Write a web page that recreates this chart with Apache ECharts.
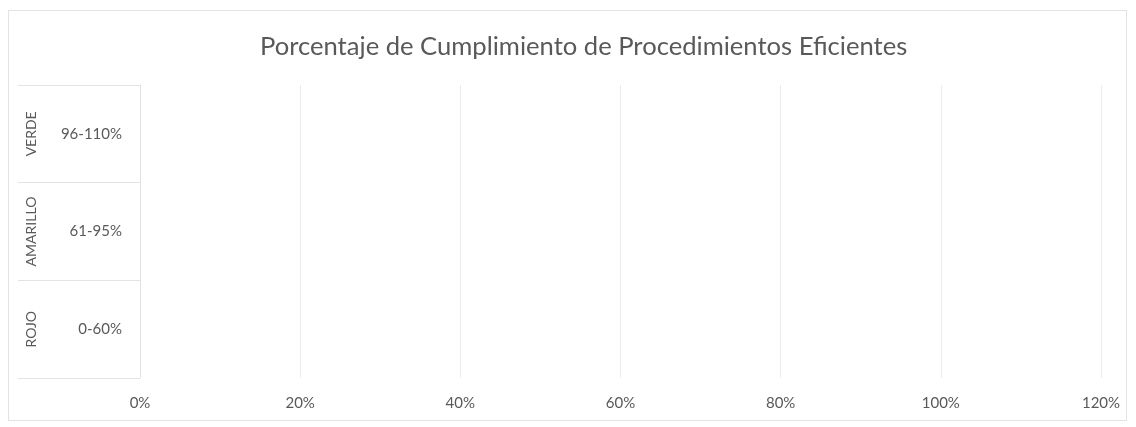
<!DOCTYPE html>
<html><head><meta charset="utf-8">
<style>
html,body{margin:0;padding:0;background:#fff;}
#frame{position:absolute;left:8px;top:10px;width:1119px;height:411px;border:1px solid #e3e3e3;box-sizing:border-box;}
#c{position:absolute;left:0;top:0;width:1136px;height:427px;}
</style>
<script src="https://cdn.jsdelivr.net/npm/echarts@6/dist/echarts.min.js"></script>
</head><body>
<div id="frame"></div>
<div id="c"></div>
<script>
const titleText = "Porcentaje de Cumplimiento de Procedimientos Eficientes";
const ranges = ["96-110%", "61-95%", "0-60%"];
const levels = ["VERDE", "AMARILLO", "ROJO"];
const values = [0, 0, 0];
const xMin = 0, xMax = 1.2, xStep = 0.2;

const chart = echarts.init(document.getElementById('c'));
const font = 'Lato, "Open Sans", sans-serif';
chart.setOption({
  animation: false,
  title: {text: titleText, left: 255, top: 29,
    textStyle: {fontFamily: font, fontSize: 25.6, fontWeight: 'normal', color: '#595959'}},
  grid: {left: 140, right: 35, top: 85, bottom: 49},
  xAxis: {type: 'value', min: xMin, max: xMax, interval: xStep,
    axisLine: {show: false}, axisTick: {show: false},
    splitLine: {show: true, lineStyle: {color: '#ececec', width: 1}},
    axisLabel: {margin: 18, color: '#595959', fontFamily: font, fontSize: 15,
      formatter: v => Math.round(v * 100) + '%'}},
  yAxis: [{type: 'category', data: ranges, inverse: true,
    axisLine: {show: true, lineStyle: {color: '#e3e3e3'}},
    axisTick: {show: true, length: 122, lineStyle: {color: '#e3e3e3'}},
    axisLabel: {margin: 18, color: '#595959', fontFamily: font, fontSize: 15}},
   {type: 'category', data: levels, inverse: true, position: 'left', offset: 0,
    axisLine: {show: false}, axisTick: {show: false},
    axisLabel: {margin: 102, rotate: 90, color: '#595959', fontFamily: font, fontSize: 14}}],
  series: [{type: 'bar', data: values, yAxisIndex: 0, itemStyle: {color: '#4472c4'}}]
});
</script>
</body></html>
